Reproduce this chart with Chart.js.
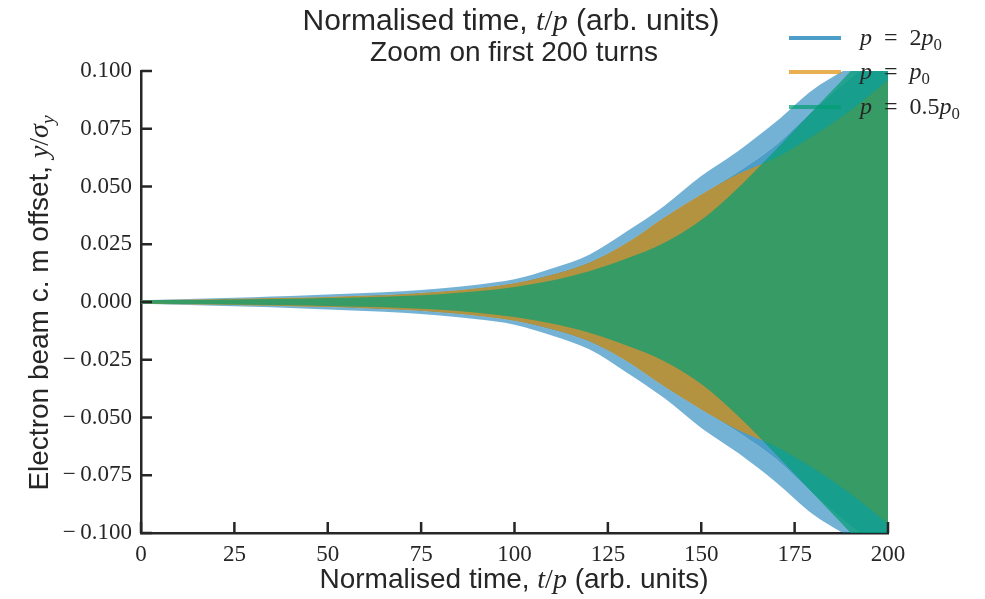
<!DOCTYPE html>
<html><head><meta charset="utf-8">
<script src="https://cdn.jsdelivr.net/npm/chart.js@4/dist/chart.umd.min.js"></script>
<style>html,body{margin:0;padding:0;background:#fff}#wrap{width:985px;height:599px;position:relative}canvas{display:block}</style>
</head><body><div id="wrap"><canvas id="c" width="985" height="599"></canvas></div>
<script>
// ---- data (envelopes of the oscillating signals) ----
const xGrid = [0,10,20,30,40,50,60,70,80,90,100,110,120,130,140,150,160,170,180,190,200];
// p = 2p0 (blue): spike tips and dense base
const blueTipUpper  = [0.0008,0.0012,0.0016,0.0021,0.0026,0.0032,0.0039,0.0046,0.0058,0.0075,0.0098,0.0145,0.0205,0.0305,0.0415,0.0545,0.0655,0.078,0.092,0.102,0.112];
const blueBaseUpper = [0.0008,0.001,0.0012,0.0015,0.0018,0.0022,0.0028,0.0035,0.0045,0.006,0.0082,0.012,0.0172,0.0255,0.0365,0.0465,0.0565,0.068,0.083,0.097,0.108];
const blueBaseLower = [-0.0008,-0.001,-0.0012,-0.0015,-0.0018,-0.0022,-0.0028,-0.0035,-0.0045,-0.006,-0.0082,-0.012,-0.0172,-0.0255,-0.0365,-0.0465,-0.0565,-0.068,-0.083,-0.097,-0.108];
const blueTipLower  = [-0.0008,-0.0012,-0.0016,-0.0021,-0.0026,-0.0032,-0.0039,-0.0046,-0.0058,-0.0075,-0.0098,-0.0145,-0.0205,-0.0305,-0.0415,-0.0545,-0.0655,-0.078,-0.092,-0.102,-0.112];
// p = p0 (orange)
const orangeUpper = [0.0008,0.001,0.0012,0.0015,0.0018,0.0022,0.0027,0.0034,0.0044,0.0059,0.0081,0.0118,0.017,0.0255,0.0365,0.0465,0.0555,0.0625,0.072,0.083,0.096];
const orangeLower = [-0.0008,-0.001,-0.0012,-0.0015,-0.0018,-0.0022,-0.0027,-0.0034,-0.0044,-0.0059,-0.0081,-0.0118,-0.017,-0.0255,-0.0365,-0.0465,-0.0555,-0.0625,-0.072,-0.083,-0.096];
// p = 0.5p0 (green)
const greenUpper = [0.0008,0.0009,0.001,0.0012,0.0014,0.0017,0.0021,0.0026,0.0034,0.0046,0.0065,0.0093,0.0133,0.0188,0.0255,0.0355,0.0496,0.066,0.083,0.1,0.118];
const greenLower = [-0.0008,-0.0009,-0.001,-0.0012,-0.0014,-0.0017,-0.0021,-0.0026,-0.0034,-0.0046,-0.0065,-0.0093,-0.0133,-0.0188,-0.0255,-0.0355,-0.0496,-0.066,-0.083,-0.1,-0.118];

const seriesLabels = ['$p = 2p_0$', '$p = p_0$', '$p = 0.5p_0$'];
const seriesColors = ['rgba(1,115,178,0.7)', 'rgba(222,143,5,0.7)', 'rgba(2,158,115,0.7)'];
const blueSpikeColor = 'rgba(1,115,178,0.55)';

const xTicks = [0,25,50,75,100,125,150,175,200];
const xTickLabels = ['0','25','50','75','100','125','150','175','200'];
const yTicks = [-0.1,-0.075,-0.05,-0.025,0,0.025,0.05,0.075,0.1];
const yTickLabels = ['\u2212\u20090.100','\u2212\u20090.075','\u2212\u20090.050','\u2212\u20090.025','0.000','0.025','0.050','0.075','0.100'];

const titleLines = ['Normalised time, $t/p$ (arb. units)', 'Zoom on first 200 turns'];
const xTitle = 'Normalised time, $t/p$ (arb. units)';
const yTitle = 'Electron beam c. m offset, $y/\u03c3_y$';

// ---- helpers ----
const INK = '#262626';
function pts(ys){ return xGrid.map((x,i)=>({x:x, y:ys[i]})); }
function fontFor(kind, size){
  if(kind==='sans') return size+'px "Liberation Sans", Arial, sans-serif';
  if(kind==='serifI') return 'italic '+size+'px "Liberation Serif", "DejaVu Serif", serif';
  return size+'px "Liberation Serif", "DejaVu Serif", serif';
}
function parseRich(str){
  const segs=[]; let math=false;
  const push=(t,kind,sub)=>{
    const last=segs[segs.length-1];
    if(last && last.kind===kind && last.sub===sub) last.t+=t; else segs.push({t,kind,sub});
  };
  for(let i=0;i<str.length;i++){
    const ch=str[i];
    if(ch==='$'){math=!math;continue;}
    if(!math){push(ch,'sans',false);continue;}
    if(ch===' '){push('\u2002','serif',false);continue;}
    if(ch==='_'){i++; const c=str[i]; push(c,/[A-Za-z\u03c3]/.test(c)?'serifI':'serif',true); continue;}
    push(ch,/[A-Za-z\u03c3]/.test(ch)?'serifI':'serif',false);
  }
  return segs;
}
function richWidth(ctx, segs, size){
  let w=0;
  segs.forEach(s=>{ const fs = s.sub? size*0.7 : size; ctx.font=fontFor(s.kind,fs); w+=ctx.measureText(s.t).width; });
  return w;
}
function drawRich(ctx, str, x, y, size, align){
  const segs=parseRich(str);
  const w=richWidth(ctx,segs,size);
  let cx = align==='center'? x-w/2 : x;
  ctx.textBaseline='alphabetic'; ctx.textAlign='left'; ctx.fillStyle=INK;
  segs.forEach(s=>{
    const fs = s.sub? size*0.7 : size;
    ctx.font=fontFor(s.kind,fs);
    ctx.fillText(s.t, cx, y + (s.sub? size*0.22 : 0));
    cx += ctx.measureText(s.t).width;
  });
}

const decorPlugin = {
  id:'decor',
  afterDatasetsDraw(chart){
    const ctx=chart.ctx, a=chart.chartArea, xs=chart.scales.x, ys=chart.scales.y;
    ctx.save();
    ctx.strokeStyle=INK; ctx.lineWidth=2.5; ctx.lineCap='butt';
    ctx.beginPath();
    xTicks.forEach(v=>{const p=xs.getPixelForValue(v); ctx.moveTo(p,a.bottom); ctx.lineTo(p,a.bottom-11);});
    yTicks.forEach(v=>{const p=ys.getPixelForValue(v); ctx.moveTo(a.left,p); ctx.lineTo(a.left+11,p);});
    ctx.stroke();
    ctx.restore();
  },
  afterDraw(chart){
    const ctx=chart.ctx, a=chart.chartArea;
    ctx.save();
    // titles
    drawRich(ctx, titleLines[0], 511, 30, 30, 'center');
    drawRich(ctx, titleLines[1], 514, 61, 28, 'center');
    drawRich(ctx, xTitle, 514, 588, 28, 'center');
    ctx.save(); ctx.translate(48, 303); ctx.rotate(-Math.PI/2);
    drawRich(ctx, yTitle, 0, 0, 28, 'center');
    ctx.restore();
    // legend
    const rows=[38,72,107];
    seriesLabels.forEach((lab,i)=>{
      ctx.strokeStyle=seriesColors[i]; ctx.lineWidth=4; ctx.lineCap='butt';
      ctx.beginPath(); ctx.moveTo(789,rows[i]); ctx.lineTo(841,rows[i]); ctx.stroke();
      drawRich(ctx, lab, 860, rows[i]+7, 24, 'left');
    });
    ctx.restore();
  }
};

const ds = (data, color, fill, order) => ({data:pts(data), backgroundColor:color, borderWidth:0, borderColor:'rgba(0,0,0,0)', fill:fill, order:order, pointRadius:0, cubicInterpolationMode:'monotone'});

new Chart(document.getElementById('c').getContext('2d'), {
  type:'line',
  data:{datasets:[
    ds(blueTipUpper,  'rgba(0,0,0,0)', false, 3),
    ds(blueBaseUpper, blueSpikeColor, {target:0}, 3),
    ds(blueBaseLower, seriesColors[0], {target:1}, 3),
    ds(blueTipLower,  blueSpikeColor, {target:2}, 3),
    ds(orangeUpper,   'rgba(0,0,0,0)', false, 2),
    ds(orangeLower,   seriesColors[1], {target:4}, 2),
    ds(greenUpper,    'rgba(0,0,0,0)', false, 1),
    ds(greenLower,    seriesColors[2], {target:6}, 1)
  ]},
  options:{
    responsive:false, animation:false, devicePixelRatio:1,
    layout:{padding:{top:71,right:97,left:0,bottom:0}},
    plugins:{legend:{display:false}, tooltip:{enabled:false}, title:{display:false}},
    scales:{
      x:{type:'linear', min:0, max:200,
        afterBuildTicks:s=>{s.ticks=xTicks.map(v=>({value:v}));},
        afterFit:s=>{s.height=66;},
        grid:{display:false, drawTicks:false},
        border:{display:true, color:INK, width:2.5},
        ticks:{autoSkip:false, maxRotation:0, padding:8, color:INK,
          font:{family:'"Liberation Serif", serif', size:23},
          callback:(v)=>{const i=xTicks.indexOf(v); return i>=0?xTickLabels[i]:'';}}
      },
      y:{type:'linear', min:-0.1, max:0.1,
        afterBuildTicks:s=>{s.ticks=yTicks.map(v=>({value:v}));},
        afterFit:s=>{s.width=141;},
        grid:{display:false, drawTicks:false},
        border:{display:true, color:INK, width:2.5},
        ticks:{autoSkip:false, padding:9, color:INK,
          font:{family:'"Liberation Serif", serif', size:23},
          callback:(v)=>{const i=yTicks.findIndex(t=>Math.abs(t-v)<1e-9); return i>=0?yTickLabels[i]:'';}}
      }
    }
  },
  plugins:[decorPlugin]
});
</script>
</body></html>
